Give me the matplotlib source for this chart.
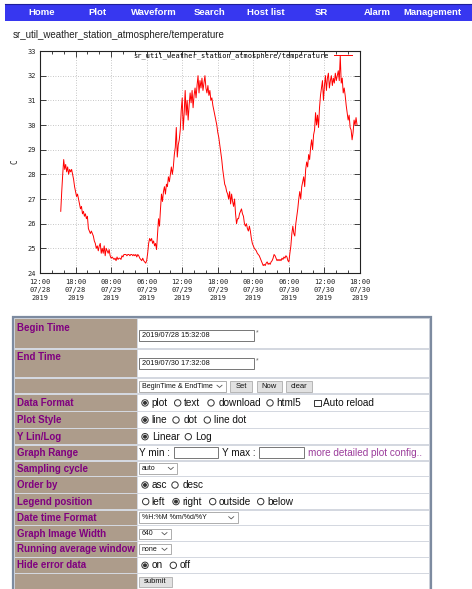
import numpy as np
import pandas as pd
import matplotlib
matplotlib.use("Agg")
import matplotlib.pyplot as plt
import matplotlib.dates as mdates
from matplotlib.ticker import MultipleLocator
from matplotlib.patches import Rectangle, Circle

# ---------------- data ----------------
series_name = "sr_util_weather_station_atmosphere/temperature"
start_time = "2019-07-28 15:30"
sample_freq = "10min"
temperature = [
    26.5, 27.3, 28.0, 28.6, 28.2, 28.4,
    28.1, 28.3, 28.0, 28.2, 28.1, 28.2,
    28.0, 27.8, 27.5, 27.3, 27.1, 27.2,
    27.0, 26.8, 26.6, 26.7, 26.4, 26.5,
    26.3, 26.4, 26.2, 26.3, 25.8, 25.7,
    25.6, 25.7, 25.6, 25.5, 25.3, 25.2,
    25.0, 25.1, 24.9, 25.1, 25.2, 24.8,
    25.0, 24.8, 25.1, 24.7, 25.0, 24.9,
    24.8, 24.95, 24.7, 24.6, 24.65, 24.6,
    24.55, 24.6, 24.5, 24.65, 24.55, 24.6,
    24.6, 24.55, 24.7, 24.65, 24.75, 24.75,
    24.75, 24.7, 24.75, 24.75, 24.7, 24.75,
    24.75, 24.7, 24.75, 24.7, 24.75, 24.65,
    24.75, 24.7, 24.6, 24.55, 24.5, 24.6,
    24.5, 24.45, 24.4, 24.5, 24.8, 25.2,
    25.4, 25.3, 25.4, 25.2, 25.3, 25.1,
    25.2, 24.95, 25.6, 26.2, 25.9, 26.6,
    27.2, 26.9, 27.3, 27.5, 27.2, 27.6,
    27.5, 27.9, 27.7, 28.0, 28.3, 28.0,
    28.3, 28.8, 29.1, 29.9, 28.7, 29.2,
    29.4, 29.8, 30.6, 31.1, 29.8, 30.5,
    31.4, 30.4, 31.0, 30.2, 30.8, 31.3,
    30.9, 31.4, 30.7, 31.2, 31.5, 31.1,
    31.6, 32.0, 31.3, 31.8, 31.5, 31.9,
    31.4, 31.7, 32.0, 31.5, 31.3, 31.6,
    31.2, 31.4, 31.0, 31.1, 30.8, 30.6,
    30.4, 30.2, 30.0, 29.7, 29.5, 29.2,
    28.9, 28.6, 28.2, 27.9, 27.6, 27.5,
    27.3, 27.2, 27.0, 27.3, 26.8, 27.2,
    26.9, 26.7, 27.0, 26.4, 26.0, 26.2,
    26.2, 26.4, 26.5, 26.6, 26.4, 26.3,
    26.0, 25.9, 26.0, 25.8, 25.7, 25.9,
    25.7, 25.4, 25.2, 25.1, 25.0, 24.95,
    24.9, 24.8, 24.75, 24.7, 24.6, 24.5,
    24.4, 24.3, 24.35, 24.3, 24.4, 24.45,
    24.35, 24.4, 24.35, 24.45, 24.5, 24.6,
    24.75, 24.7, 24.6, 24.5, 24.55, 24.5,
    24.55, 24.5, 24.6, 24.55, 24.65, 24.6,
    24.7, 24.65, 24.5, 24.45, 24.8, 25.1,
    25.6, 25.9, 25.6, 25.5, 26.0, 26.3,
    26.6, 27.0, 27.3, 27.0, 27.5, 27.7,
    27.9, 27.5, 28.2, 28.5, 28.3, 28.8,
    28.6, 29.1, 29.4, 29.0, 29.6, 29.8,
    30.5, 30.0, 30.4, 29.9, 30.7, 31.2,
    31.5, 31.8, 31.0, 31.6, 32.0, 31.4,
    31.9, 32.1, 31.5, 31.8, 32.0, 31.6,
    31.9, 31.7, 32.1, 31.8, 32.0, 32.2,
    31.8, 32.8, 31.7, 31.9, 31.3, 31.5,
    31.2, 30.8, 30.5, 30.2, 30.4, 29.9,
    29.8, 29.4, 29.7, 30.2, 30.0, 30.3,
    30.0,
]
x_range = ("2019-07-28 12:00", "2019-07-30 18:00")
y_range = (24, 33)
y_label = "C"
nav_items = ["Home", "Plot", "Waveform", "Search", "Host list", "SR", "Alarm", "Management"]
begin_time = "2019/07/28 15:32:08"
end_time = "2019/07/30 17:32:08"
form_labels = ["Begin Time", "End Time", "", "Data Format", "Plot Style", "Y Lin/Log",
               "Graph Range", "Sampling cycle", "Order by", "Legend position",
               "Date time Format", "Graph Image Width", "Running average window",
               "Hide error data", ""]

# ---------------- figure ----------------
W, H = 472, 589
fig = plt.figure(figsize=(W / 100, H / 100), dpi=100)
fig.patch.set_facecolor("white")

bg = fig.add_axes([0, 0, 1, 1])
bg.set_xlim(0, W)
bg.set_ylim(H, 0)
bg.axis("off")

HTML = "Liberation Sans"


def txt(x, y, s, size=7.2, color="#111111", weight="normal", ha="left", **kw):
    bg.text(x, y, s, fontsize=size, color=color, fontweight=weight, ha=ha,
            va="center", fontfamily=HTML, **kw)


def rect(x0, y0, x1, y1, fc, ec="none", lw=0.0, z=1):
    bg.add_patch(Rectangle((x0, y0), x1 - x0, y1 - y0, facecolor=fc,
                           edgecolor=ec, linewidth=lw, zorder=z))


def radio(x, y, on):
    bg.add_patch(Circle((x, y), 3.2, facecolor="white", edgecolor="#333333",
                        linewidth=0.7, zorder=3))
    if on:
        bg.add_patch(Circle((x, y), 2.0, facecolor="#333333", edgecolor="none", zorder=4))


def dropdown(x0, y0, x1, y1, s, size=5.1):
    rect(x0, y0, x1, y1, "white", "#a0a0a0", 0.6, z=2)
    cy = (y0 + y1) / 2
    txt(x0 + 3, cy, s, size=size, zorder=3)
    bg.plot([x1 - 9, x1 - 6.5, x1 - 4], [cy - 1.1, cy + 1.1, cy - 1.1],
            color="#555555", lw=0.6, zorder=3)


def inputbox(x0, y0, x1, y1):
    rect(x0, y0, x1, y1, "white", "#767676", 0.7, z=2)


def button(x0, y0, x1, y1, s):
    rect(x0, y0, x1, y1, "#e1e1e1", "#adadad", 0.6, z=2)
    txt((x0 + x1) / 2, (y0 + y1) / 2, s, size=5.5, ha="center", zorder=3)


# nav bar
rect(5, 4, W + 1, 21, "#3737f0", z=1)
bg.plot([5, W], [4.3, 4.3], color="#1e1e9a", lw=0.8, zorder=2)
nav_x = [41.5, 97.5, 153.5, 209.5, 265.5, 321.0, 377.5, 432.0]
for x, s in zip(nav_x, nav_items):
    txt(x, 12.5, s, size=6.8, color="white", weight="bold", ha="center", zorder=3)

# page title
txt(13, 35, series_name, size=7.0, color="#222222")

# ---------------- chart ----------------
ax = fig.add_axes([40 / W, (H - 273) / H, 320 / W, 222 / H])
times = pd.date_range(start_time, periods=len(temperature), freq=sample_freq)
ax.plot(times, temperature, color="red", lw=0.7, label=series_name)
ax.set_xlim(pd.Timestamp(x_range[0]), pd.Timestamp(x_range[1]))
ax.set_ylim(*y_range)
ax.xaxis.set_major_locator(mdates.HourLocator(byhour=[0, 6, 12, 18]))
ax.xaxis.set_minor_locator(mdates.HourLocator(byhour=list(range(0, 24, 2))))
ax.xaxis.set_major_formatter(mdates.DateFormatter("%H:%M\n%m/%d\n%Y"))
ax.yaxis.set_major_locator(MultipleLocator(1))
ax.grid(True, which="major", color="#b4b4b4", linestyle=(0, (1, 2)), lw=0.6)
ax.tick_params(which="both", direction="in", top=True, right=True,
               width=0.6, colors="#222222", labelsize=5, labelcolor="#222222")
ax.tick_params(which="major", length=4)
ax.tick_params(which="minor", length=2)
ax.tick_params(axis="x", pad=4)
ax.tick_params(axis="y", pad=3)
for lab in ax.get_xticklabels() + ax.get_yticklabels():
    lab.set_fontfamily("DejaVu Sans Mono")
for lab in ax.get_xticklabels():
    lab.set_linespacing(1.45)
for sp in ax.spines.values():
    sp.set_linewidth(0.8)
    sp.set_color("#222222")
ax.set_ylabel(y_label, fontsize=5.5, fontfamily="DejaVu Sans Mono", color="#222222")
ax.yaxis.set_label_coords(-20 / 320, 0.5)
ax.legend(loc="upper right", bbox_to_anchor=(0.975, 0.995), frameon=False,
          markerfirst=False, handlelength=2.6, handletextpad=0.8, borderpad=0,
          borderaxespad=0, prop={"family": "DejaVu Sans Mono", "size": 5})

# ---------------- form table ----------------
row_edges = [318, 349, 378, 394, 411.7, 428.3, 445, 461, 476.7, 493.3, 510,
             525.7, 541.7, 557.3, 573.3, 592]
rect(13, 316.5, 430.5, 595, "#d4d8e0", "#7d8ba0", 1.6, z=0)
for i, lab in enumerate(form_labels):
    y0, y1 = row_edges[i], row_edges[i + 1]
    rect(15, y0 + 0.6, 136.8, y1 - 0.6, "#ad9c8b", z=1)
    rect(137.8, y0 + 0.6, 428.8, y1 - 0.6, "white", z=1)
    if lab:
        if i < 2:
            ly = y0 + (10 if i == 0 else 8)
        else:
            ly = (y0 + y1) / 2
        txt(16.7, ly, lab, size=7.0, color="#800080", weight="bold", zorder=3)

# begin / end time
inputbox(138.7, 329.5, 254, 341)
txt(141.5, 335.5, begin_time, size=5.3, zorder=3)
txt(255.5, 333, "*", size=5, color="#666666", zorder=3)
inputbox(138.7, 357.8, 254, 369.3)
txt(141.5, 363.8, end_time, size=5.3, zorder=3)
txt(255.5, 361, "*", size=5, color="#666666", zorder=3)

# set row
dropdown(138.7, 380.7, 226, 392, "BeginTime & EndTime", size=5.1)
button(230, 381, 252.3, 392, "Set")
button(256.7, 381, 282, 392, "Now")
button(286, 381, 312.3, 392, "clear")

# data format
cy = 402.9
for x, s, on, tx in [(145, "plot", True, 151.7), (177.7, "text", False, 184.3),
                     (211, "download", False, 218.3), (270, "html5", False, 276.7)]:
    radio(x, cy, on)
    txt(tx, cy, s, zorder=3)
rect(314.3, 399.6, 320.7, 406.2, "white", "#333333", 0.7, z=3)
txt(322.7, cy, "Auto reload", zorder=3)

# plot style
cy = 420
for x, s, on, tx in [(145, "line", True, 151.7), (176, "dot", False, 183.3),
                     (207.3, "line dot", False, 214.3)]:
    radio(x, cy, on)
    txt(tx, cy, s, zorder=3)

# y lin/log
cy = 436.7
for x, s, on, tx in [(145, "Linear", True, 151.7), (188.3, "Log", False, 195.3)]:
    radio(x, cy, on)
    txt(tx, cy, s, zorder=3)

# graph range
cy = 452.8
txt(138.7, cy, "Y min :", zorder=3)
inputbox(174, 446.7, 218.3, 458.3)
txt(221.7, cy, "Y max :", zorder=3)
inputbox(259.3, 446.7, 304.3, 458.3)
txt(307.7, cy, "more detailed plot config..", color="#9b3c9b", zorder=3)

# sampling cycle
dropdown(139, 463.3, 177.3, 473.6, "auto", size=5.0)

# order by
cy = 485
for x, s, on, tx in [(145, "asc", True, 151.7), (175, "desc", False, 182.3)]:
    radio(x, cy, on)
    txt(tx, cy, s, zorder=3)

# legend position
cy = 501.6
for x, s, on, tx in [(145.7, "left", False, 151.7), (176, "right", True, 182.7),
                     (212.7, "outside", False, 219), (260.7, "below", False, 267.3)]:
    radio(x, cy, on)
    txt(tx, cy, s, zorder=3)

# date time format / width / running average
dropdown(139, 512.3, 237.7, 523.3, "%H:%M %m/%d/%Y", size=5.0)
dropdown(139, 528.8, 171, 538.5, "640", size=5.0)
dropdown(139, 544.3, 171, 554.3, "none", size=5.0)

# hide error data
cy = 565.3
for x, s, on, tx in [(145, "on", True, 151.7), (173.3, "off", False, 179.3)]:
    radio(x, cy, on)
    txt(tx, cy, s, zorder=3)

# submit
button(139, 576.7, 171.7, 586.7, "submit")

fig.savefig("out.png", dpi=100, facecolor="white")
